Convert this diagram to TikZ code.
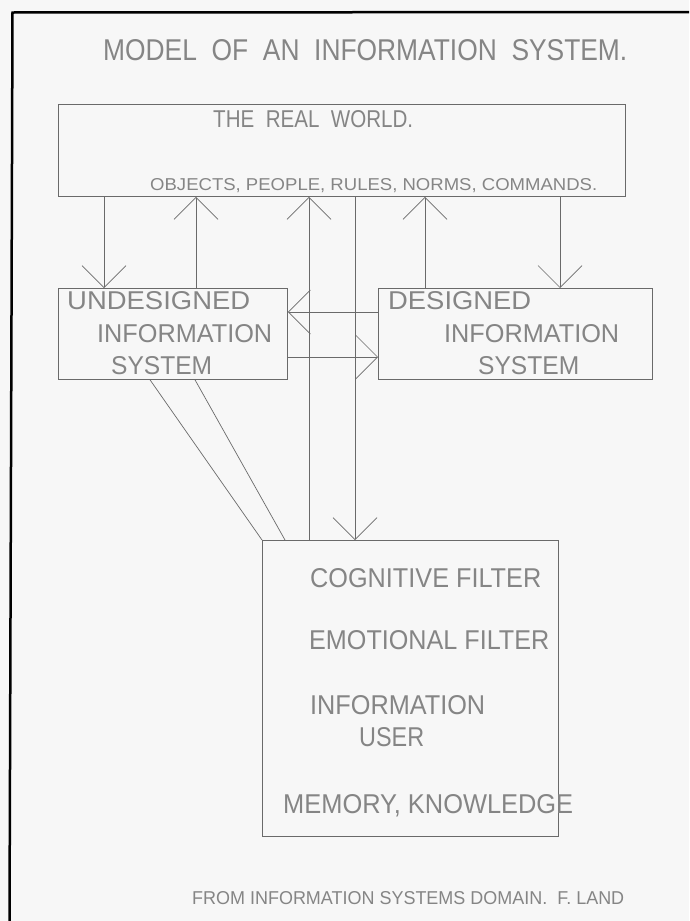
\documentclass[tikz,border=0pt]{standalone}
\usepackage{fontspec}
\setmainfont{Liberation Sans}
\usepackage{graphicx}
\usetikzlibrary{arrows.meta}
% set a line of capitals to a given width and cap height (in pt)
\newcommand{\fittext}[3]{\resizebox{#1pt}{#2pt}{#3}}
\definecolor{ink}{HTML}{6A6A6A}
\definecolor{textink}{HTML}{858585}
\definecolor{paper}{HTML}{F7F7F7}
\begin{document}
\begin{tikzpicture}[x=1pt,y=-1pt,
  box/.style={draw=ink, line width=0.8pt, rectangle, anchor=north west, inner sep=0pt},
  lbl/.style={anchor=base west, inner sep=0pt, text=textink},
  wire/.style={draw=ink, line width=0.7pt},
  arr/.style={wire, -{Straight Barb[length=22pt,width=44pt,line width=0.7pt]}}
]
\useasboundingbox (0,0) rectangle (689,921);
\fill[paper] (0,0) rectangle (689,921);
% frame edges
\draw[line width=2.5pt, black] (9.5,921) -- (12.5,12.5) -- (689,12);

% boxes
\node[box, minimum width=567pt, minimum height=92pt] (world) at (58,104) {};
\node[box, minimum width=229pt, minimum height=91pt] (und) at (58,288) {};
\node[box, minimum width=274pt, minimum height=91pt] (des) at (378,288) {};
\node[box, minimum width=296pt, minimum height=296pt] (user) at (262,540) {};

% texts
\node[lbl] (title) at (103,60) {\fittext{524}{21}{MODEL\ \ OF\ \ AN\ \ INFORMATION\ \ SYSTEM.}};
\node[lbl] (realworld) at (213,127) {\fittext{200}{17}{THE\ \ REAL\ \ WORLD.}};
\node[lbl] (objects) at (150,190) {\fittext{447}{12}{OBJECTS,\ PEOPLE,\ RULES,\ NORMS,\ COMMANDS.}};
\node[lbl] (u1) at (67,309) {\fittext{183}{18}{UNDESIGNED}};
\node[lbl] (u2) at (97,342) {\fittext{175}{18}{INFORMATION}};
\node[lbl] (u3) at (111,374) {\fittext{101}{18}{SYSTEM}};
\node[lbl] (d1) at (388,309) {\fittext{143}{18}{DESIGNED}};
\node[lbl] (d2) at (444,342) {\fittext{175}{18}{INFORMATION}};
\node[lbl] (d3) at (478,374) {\fittext{101}{18}{SYSTEM}};
\node[lbl] (f1) at (310,587.5) {\fittext{231}{19}{COGNITIVE FILTER}};
\node[lbl] (f2) at (309,649.5) {\fittext{240}{19}{EMOTIONAL FILTER}};
\node[lbl] (f3) at (310,714.5) {\fittext{175}{19}{INFORMATION}};
\node[lbl] (f4) at (359,746.5) {\fittext{65}{19}{USER}};
\node[lbl] (f5) at (283,813) {\fittext{290}{19}{MEMORY,\ KNOWLEDGE}};
\node[lbl] (source) at (192,904) {\fittext{432}{13}{FROM INFORMATION SYSTEMS DOMAIN.\ \ F. LAND}};

% x positions of the vertical links, y positions of the horizontal ones
\coordinate (xa) at (104,0);
\coordinate (xb) at (196,0);
\coordinate (xc) at (309,0);
\coordinate (xd) at (355,0);
\coordinate (xe) at (425,0);
\coordinate (xf) at (560,0);
\coordinate (ya) at (0,312);
\coordinate (yb) at (0,357);

% vertical links
\draw[arr] (world.south -| xa) -- (und.north -| xa);
\draw[arr] (und.north -| xb) -- (world.south -| xb);
\draw[arr] (user.north -| xc) -- (world.south -| xc);
\draw[arr] (world.south -| xd) -- (user.north -| xd);
\draw[arr] (des.north -| xe) -- (world.south -| xe);
\draw[arr] (world.south -| xf) -- (des.north -| xf);

% horizontal links between the two systems
\draw[arr] (des.west |- ya) -- (und.east |- ya);
\draw[arr] (und.east |- yb) -- (des.west |- yb);

% slanted links to the user
\coordinate (s1) at (150,0);
\coordinate (s2) at (195,0);
\coordinate (e2) at (285,0);
\draw[wire] (und.south -| s1) -- (user.north west);
\draw[wire] (und.south -| s2) -- (user.north -| e2);
\end{tikzpicture}
\end{document}
